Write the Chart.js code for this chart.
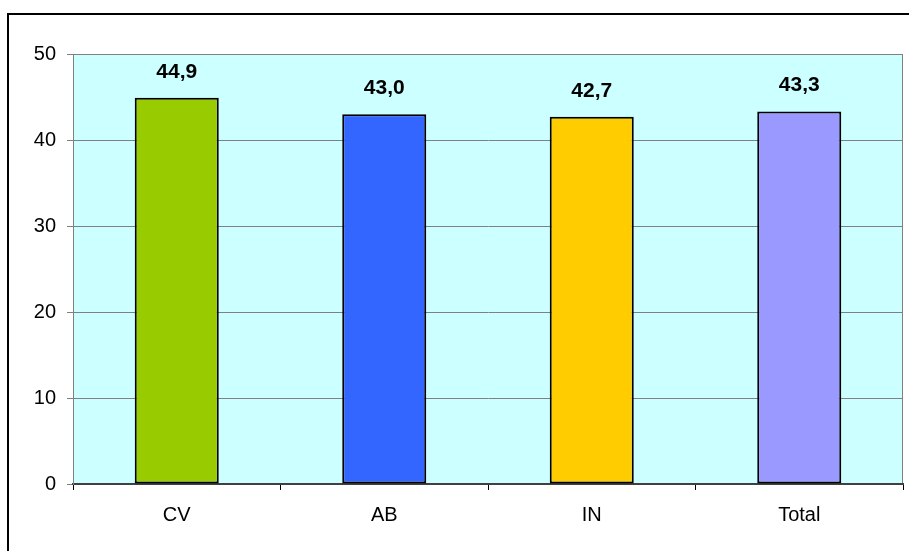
<!DOCTYPE html>
<html>
<head>
<meta charset="utf-8">
<script src="https://cdn.jsdelivr.net/npm/chart.js@4/dist/chart.umd.min.js"></script>
<style>
  html, body { margin: 0; padding: 0; background: #ffffff; }
  #wrap { width: 909px; height: 551px; position: relative; }
</style>
</head>
<body>
<div id="wrap"><canvas id="c"></canvas></div>
<script>
const categories = ['CV', 'AB', 'IN', 'Total'];
const values = [44.9, 43.0, 42.7, 43.3];
const barColors = ['#99CC00', '#3366FF', '#FFCC00', '#9999FF'];
const yTicks = [0, 10, 20, 30, 40, 50];

const FONT = '"Liberation Sans", Arial, sans-serif';

// Frame, plot background and value labels
const decor = {
  id: 'decor',
  beforeDraw(chart) {
    const { ctx, chartArea: a } = chart;
    ctx.save();
    ctx.fillStyle = '#ffffff';
    ctx.fillRect(0, 0, chart.width, chart.height);
    // outer frame
    ctx.strokeStyle = '#000000';
    ctx.lineWidth = 2;
    ctx.strokeRect(8, 14, chart.width + 20, chart.height + 20);
    // plot background
    ctx.fillStyle = '#CCFFFF';
    ctx.fillRect(a.left, a.top, a.right - a.left, a.bottom - a.top);
    ctx.strokeStyle = '#808080';
    ctx.lineWidth = 1;
    ctx.strokeRect(a.left + 0.5, a.top + 0.5, a.right - a.left - 1, a.bottom - a.top);
    ctx.restore();
  },
  afterDatasetsDraw(chart) {
    const { ctx } = chart;
    const meta = chart.getDatasetMeta(0);
    ctx.save();
    ctx.fillStyle = '#000000';
    ctx.font = 'bold 21px ' + FONT;
    ctx.textAlign = 'center';
    ctx.textBaseline = 'middle';
    meta.data.forEach((bar, i) => {
      const txt = values[i].toFixed(1).replace('.', ',');
      ctx.fillText(txt, bar.x, bar.y - 26);
    });
    ctx.restore();
  }
};

new Chart(document.getElementById('c'), {
  type: 'bar',
  data: {
    labels: categories,
    datasets: [{
      data: values,
      backgroundColor: barColors,
      borderColor: '#000000',
      borderWidth: 2,
      borderSkipped: false,
      barPercentage: 0.405,
      categoryPercentage: 1.0
    }]
  },
  options: {
    responsive: true,
    maintainAspectRatio: false,
    animation: false,
    devicePixelRatio: 1,
    layout: { padding: { top: 54, right: 6, left: 0, bottom: 0 } },
    plugins: { legend: { display: false }, tooltip: { enabled: false } },
    scales: {
      x: {
        afterFit(s) { s.height = 67; },
        grid: {
          drawOnChartArea: false,
          drawTicks: true,
          tickLength: 6,
          color: '#000000',
          offset: true
        },
        border: { display: true, color: '#404040', width: 2 },
        ticks: {
          color: '#000000',
          font: { family: FONT, size: 20 },
          padding: 13
        }
      },
      y: {
        min: 0,
        max: 50,
        afterFit(s) { s.width = 73; },
        afterBuildTicks(s) { s.ticks = yTicks.map(v => ({ value: v })); },
        grid: {
          color: '#808080',
          lineWidth: 1,
          drawTicks: true,
          tickLength: 6
        },
        border: { display: true, color: '#808080', width: 1 },
        ticks: {
          color: '#000000',
          font: { family: FONT, size: 20 },
          padding: 11
        }
      }
    }
  },
  plugins: [decor]
});
</script>
</body>
</html>
